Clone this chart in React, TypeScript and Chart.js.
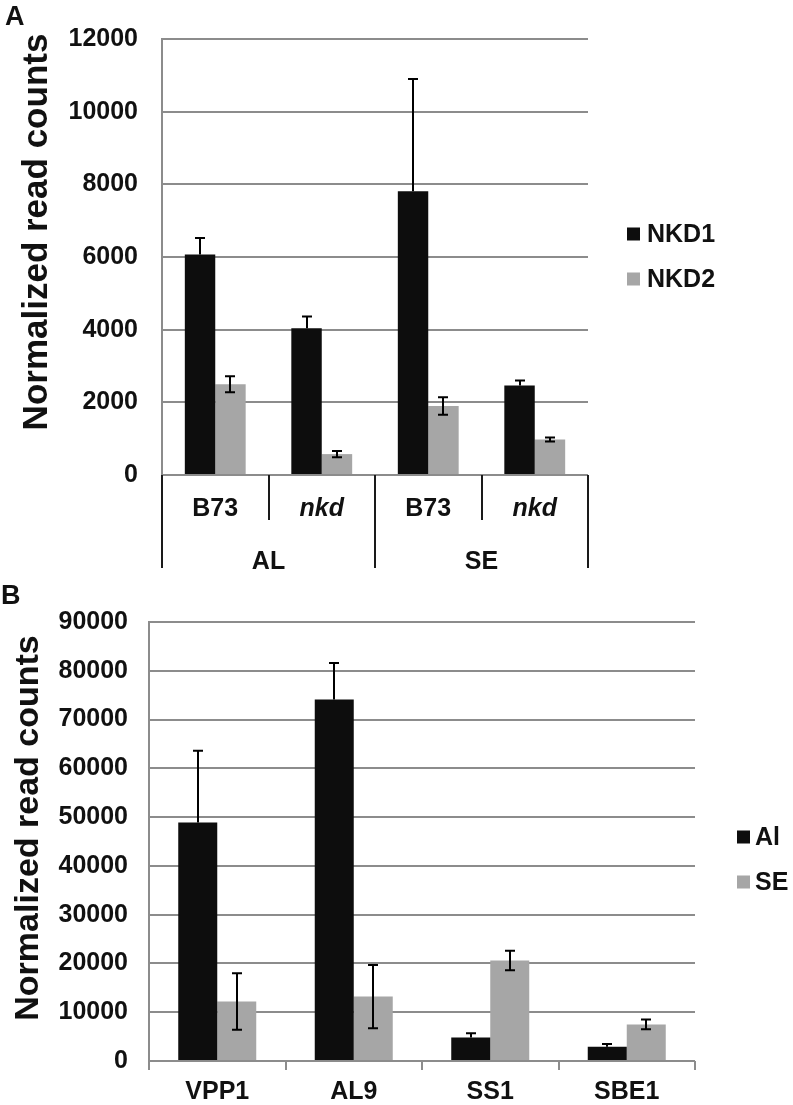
import React, { useEffect, useRef } from "react";
import { Chart, registerables } from "chart.js";

Chart.register(...registerables);

const FONT = '"Liberation Sans", Arial, Helvetica, sans-serif';

// ---------- Panel A data ----------
const aCategories = ["B73", "nkd", "B73", "nkd"];
const aCategoryItalic = [false, true, false, true];
const aTissues = ["AL", "SE"];
const aSeries = ["NKD1", "NKD2"];
const aNkd1 = [6070, 4040, 7810, 2460];
const aNkd1Err = [450, 320, 3090, 140];
const aNkd2 = [2500, 575, 1900, 980];
const aNkd2Err = [220, 85, 240, 55];
const aYMax = 12000;
const aYStep = 2000;

// ---------- Panel B data ----------
const bCategories = ["VPP1", "AL9", "SS1", "SBE1"];
const bSeries = ["Al", "SE"];
const bAl = [48900, 74100, 4800, 2900];
const bAlErr = [14700, 7500, 900, 600];
const bSe = [12200, 13200, 20600, 7500];
const bSeErr = [5800, 6500, 2000, 1000];
const bYMax = 90000;
const bYStep = 10000;

const yTitle = "Normalized read counts";
const BLACK = "#0d0d0d";
const GREY = "#a6a6a6";
const GRID = "#8c8c8c";
const TEXT = "#111111";

type Spec = {
  width: number;
  height: number;
  top: number;
  padTop: number;
  padRight: number;
  padBottom: number;
  axisWidth: number;
  tickPad: number;
  yMax: number;
  yStep: number;
  categories: string[];
  italic: boolean[];
  series: string[];
  values: number[][];
  errors: number[][];
  letter: string;
  letterX: number;
  letterY: number;
  titleX: number;
  titleY: number;
  titleSize: number;
  legendX: number;
  legendTextX: number;
  legendY: number[];
  labelY: number;
  groups?: string[];
  groupY?: number;
  shortSepLen?: number;
  longSepLen?: number;
  tickMarkLen?: number;
};

const specA: Spec = {
  width: 793,
  height: 580,
  top: 0,
  padTop: 38,
  padRight: 205,
  padBottom: 105,
  axisWidth: 162,
  tickPad: 24,
  yMax: aYMax,
  yStep: aYStep,
  categories: aCategories,
  italic: aCategoryItalic,
  series: aSeries,
  values: [aNkd1, aNkd2],
  errors: [aNkd1Err, aNkd2Err],
  letter: "A",
  letterX: 5,
  letterY: 25,
  titleX: 47,
  titleY: 232,
  titleSize: 35,
  legendX: 627,
  legendTextX: 647,
  legendY: [234, 279],
  labelY: 509,
  groups: aTissues,
  groupY: 562,
  shortSepLen: 45,
  longSepLen: 93,
};

const specB: Spec = {
  width: 793,
  height: 525,
  top: 580,
  padTop: 42,
  padRight: 98,
  padBottom: 44,
  axisWidth: 149,
  tickPad: 21,
  yMax: bYMax,
  yStep: bYStep,
  categories: bCategories,
  italic: [false, false, false, false],
  series: bSeries,
  values: [bAl, bSe],
  errors: [bAlErr, bSeErr],
  letter: "B",
  letterX: 1,
  letterY: 24,
  titleX: 38,
  titleY: 248,
  titleSize: 34,
  legendX: 737,
  legendTextX: 755,
  legendY: [837, 882].map((v) => v - 580),
  labelY: 512,
  tickMarkLen: 9,
};

function Panel({ spec }: { spec: Spec }) {
  const ref = useRef<HTMLCanvasElement | null>(null);

  useEffect(() => {
    const canvas = ref.current;
    if (!canvas) return;
    const colors = [BLACK, GREY];
    // black series: only the upper whisker shows above the bar
    const plusOnly = [true, false];

    const errorBars = {
      id: "errorBars",
      afterDatasetsDraw(chart: any) {
        const ctx = chart.ctx;
        const y = chart.scales.y;
        ctx.save();
        ctx.strokeStyle = "#000";
        ctx.lineWidth = 2;
        spec.errors.forEach((errs, di) => {
          const meta = chart.getDatasetMeta(di);
          meta.data.forEach((bar: any, i: number) => {
            const v = spec.values[di][i];
            const e = errs[i];
            const yTop = y.getPixelForValue(v + e);
            const yBot = plusOnly[di] ? y.getPixelForValue(v) : y.getPixelForValue(Math.max(0, v - e));
            const x = Math.round(bar.x);
            ctx.beginPath();
            ctx.moveTo(x, yTop);
            ctx.lineTo(x, yBot);
            ctx.moveTo(x - 5, yTop);
            ctx.lineTo(x + 5, yTop);
            if (!plusOnly[di]) {
              ctx.moveTo(x - 5, yBot);
              ctx.lineTo(x + 5, yBot);
            }
            ctx.stroke();
          });
        });
        ctx.restore();
      },
    };

    const decorations = {
      id: "decorations",
      afterDraw(chart: any) {
        const ctx = chart.ctx;
        const xs = chart.scales.x;
        const area = chart.chartArea;
        const n = spec.categories.length;
        const catW = (area.right - area.left) / n;
        const boundary = (i: number) => area.left + i * catW;
        ctx.save();
        ctx.fillStyle = TEXT;

        // panel letter
        ctx.font = `bold 27px ${FONT}`;
        ctx.textAlign = "left";
        ctx.textBaseline = "alphabetic";
        ctx.fillText(spec.letter, spec.letterX, spec.letterY);

        // y title
        ctx.save();
        ctx.translate(spec.titleX, spec.titleY);
        ctx.rotate(-Math.PI / 2);
        ctx.font = `bold ${spec.titleSize}px ${FONT}`;
        ctx.textAlign = "center";
        ctx.textBaseline = "alphabetic";
        ctx.fillText(yTitle, 0, 0);
        ctx.restore();

        // legend
        ctx.font = `bold 25px ${FONT}`;
        ctx.textAlign = "left";
        ctx.textBaseline = "middle";
        spec.series.forEach((s, i) => {
          ctx.fillStyle = colors[i];
          ctx.fillRect(spec.legendX, spec.legendY[i] - 6.5, 13, 13);
          ctx.fillStyle = TEXT;
          ctx.fillText(s, spec.legendTextX, spec.legendY[i] + 1);
        });

        // category labels
        ctx.textAlign = "center";
        spec.categories.forEach((c, i) => {
          ctx.font = `${spec.italic[i] ? "italic " : ""}bold 25px ${FONT}`;
          ctx.fillText(c, xs.getPixelForValue(i), spec.labelY);
        });

        if (spec.groups) {
          ctx.strokeStyle = "#1a1a1a";
          ctx.lineWidth = 2;
          for (let i = 0; i <= n; i++) {
            const x = Math.round(boundary(i));
            const len = i % 2 === 0 ? spec.longSepLen! : spec.shortSepLen!;
            ctx.beginPath();
            ctx.moveTo(x, area.bottom);
            ctx.lineTo(x, area.bottom + len);
            ctx.stroke();
          }
          ctx.font = `bold 25px ${FONT}`;
          spec.groups.forEach((g, gi) => {
            const cx = (boundary(gi * 2) + boundary(gi * 2 + 2)) / 2;
            ctx.fillText(g, cx, spec.groupY!);
          });
        } else if (spec.tickMarkLen) {
          ctx.strokeStyle = GRID;
          ctx.lineWidth = 2;
          for (let i = 0; i <= n; i++) {
            const x = Math.round(boundary(i));
            ctx.beginPath();
            ctx.moveTo(x, area.bottom);
            ctx.lineTo(x, area.bottom + spec.tickMarkLen);
            ctx.stroke();
          }
        }
        ctx.restore();
      },
    };

    const chart = new Chart(canvas, {
      type: "bar",
      data: {
        labels: spec.categories,
        datasets: spec.series.map((s, i) => ({
          label: s,
          data: spec.values[i],
          backgroundColor: colors[i],
          borderWidth: 0,
          barPercentage: 1,
          categoryPercentage: 2 / 3.5,
        })),
      },
      options: {
        responsive: false,
        animation: false,
        devicePixelRatio: 1,
        events: [],
        layout: {
          padding: { left: 0, top: spec.padTop, right: spec.padRight, bottom: spec.padBottom },
        },
        plugins: {
          legend: { display: false },
          tooltip: { enabled: false },
          title: { display: false },
        },
        scales: {
          x: { display: false },
          y: {
            min: 0,
            max: spec.yMax,
            ticks: {
              stepSize: spec.yStep,
              color: TEXT,
              padding: spec.tickPad,
              font: { family: FONT, size: 25, weight: "bold" },
              callback: (v: any) => String(v),
            },
            grid: { color: GRID, lineWidth: 2, drawTicks: false },
            border: { display: true, color: GRID, width: 2 },
            afterFit: (s: any) => {
              s.width = spec.axisWidth;
            },
          },
        },
      },
      plugins: [errorBars, decorations],
    } as any);

    return () => chart.destroy();
  }, [spec]);

  return (
    <canvas
      ref={ref}
      width={spec.width}
      height={spec.height}
      style={{
        position: "absolute",
        left: 0,
        top: spec.top,
        width: spec.width,
        height: spec.height,
        display: "block",
      }}
    />
  );
}

export default function App() {
  return (
    <div
      style={{
        position: "absolute",
        left: 0,
        top: 0,
        width: 793,
        height: 1105,
        background: "#ffffff",
        overflow: "hidden",
      }}
    >
      <Panel spec={specA} />
      <Panel spec={specB} />
    </div>
  );
}
